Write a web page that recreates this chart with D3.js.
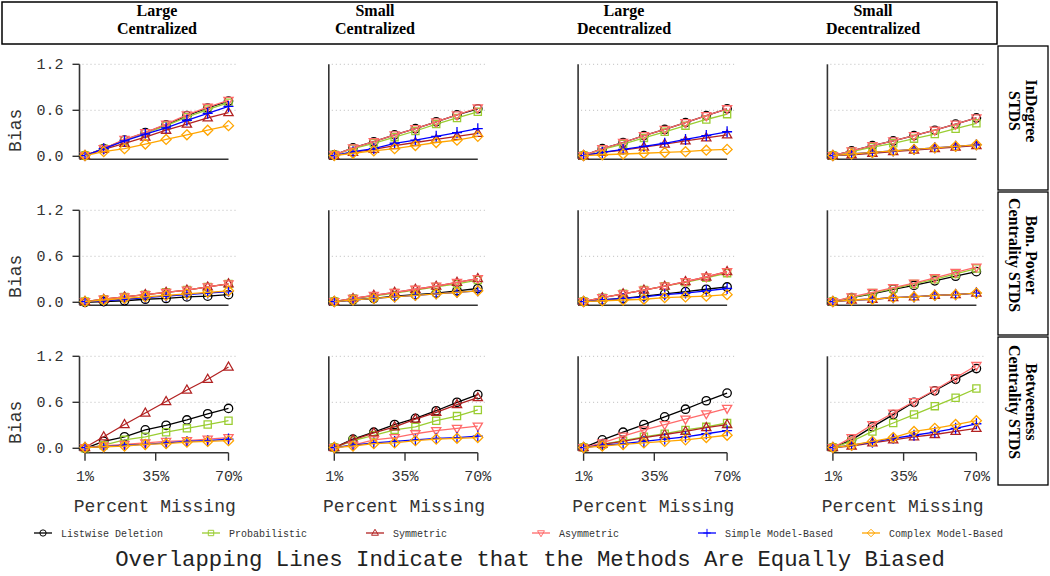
<!DOCTYPE html>
<html><head><meta charset="utf-8">
<script src="https://cdn.jsdelivr.net/npm/d3@7"></script>
<style>body{margin:0;background:#fff}svg{display:block}</style>
</head><body>
<script>
// ---------- DATA ----------
const percentMissing = [1, 10, 20, 30, 40, 50, 60, 70];
const xTickValues = [1, 35, 70];
const xTickLabels = ["1%", "35%", "70%"];
const yTickValues = [0, 0.6, 1.2];
const yTickLabels = ["0.0", "0.6", "1.2"];
const columnLabels = [["Large", "Centralized"], ["Small", "Centralized"], ["Large", "Decentralized"], ["Small", "Decentralized"]];
const rowLabels = [["InDegree", "STDS"], ["Bon. Power", "Centrality STDS"], ["Betweeness", "Centrality STDS"]];
const methods = ["Listwise Deletion", "Probabilistic", "Symmetric", "Asymmetric", "Simple Model-Based", "Complex Model-Based"];

// one array per method, same order as `methods`
const inDegreeLargeCentral = [
  [0.01,0.10,0.21,0.31,0.41,0.53,0.63,0.72],
  [0.01,0.10,0.21,0.30,0.40,0.51,0.61,0.70],
  [0.01,0.09,0.17,0.25,0.34,0.42,0.50,0.57],
  [0.01,0.10,0.22,0.31,0.42,0.54,0.64,0.73],
  [0.01,0.10,0.20,0.29,0.37,0.47,0.56,0.65],
  [0.01,0.06,0.10,0.16,0.22,0.28,0.34,0.40]];
const inDegreeSmallCentral = [
  [0.02,0.11,0.19,0.28,0.36,0.45,0.54,0.62],
  [0.02,0.10,0.17,0.25,0.33,0.42,0.50,0.58],
  [0.01,0.05,0.09,0.14,0.18,0.22,0.26,0.30],
  [0.02,0.11,0.19,0.28,0.36,0.45,0.54,0.63],
  [0.01,0.06,0.10,0.17,0.21,0.26,0.31,0.36],
  [0.01,0.04,0.07,0.10,0.14,0.18,0.21,0.26]];
const inDegreeLargeDecentral = [
  [0.01,0.10,0.18,0.27,0.35,0.44,0.53,0.62],
  [0.01,0.09,0.16,0.24,0.32,0.40,0.48,0.55],
  [0.01,0.05,0.08,0.12,0.16,0.20,0.24,0.28],
  [0.01,0.10,0.18,0.27,0.35,0.44,0.53,0.62],
  [0.01,0.05,0.09,0.13,0.17,0.22,0.27,0.32],
  [0.01,0.02,0.03,0.04,0.05,0.06,0.08,0.09]];
const inDegreeSmallDecentral = [
  [0.01,0.07,0.14,0.20,0.27,0.34,0.42,0.50],
  [0.01,0.06,0.12,0.17,0.23,0.29,0.36,0.43],
  [0.01,0.02,0.04,0.06,0.08,0.10,0.12,0.14],
  [0.01,0.07,0.14,0.20,0.27,0.34,0.42,0.50],
  [0.01,0.03,0.05,0.07,0.09,0.11,0.13,0.15],
  [0.01,0.03,0.05,0.07,0.09,0.11,0.13,0.15]];
const bonPowerLargeCentral = [
  [0.00,0.01,0.02,0.04,0.05,0.07,0.08,0.10],
  [0.01,0.04,0.07,0.10,0.13,0.16,0.20,0.24],
  [0.01,0.04,0.07,0.10,0.13,0.16,0.20,0.24],
  [0.01,0.04,0.07,0.10,0.13,0.16,0.20,0.24],
  [0.01,0.02,0.04,0.06,0.08,0.10,0.12,0.14],
  [0.01,0.03,0.05,0.07,0.09,0.11,0.13,0.15]];
const bonPowerSmallCentral = [
  [0.01,0.03,0.05,0.08,0.10,0.12,0.15,0.18],
  [0.01,0.05,0.08,0.12,0.16,0.20,0.24,0.29],
  [0.01,0.05,0.09,0.13,0.17,0.21,0.26,0.31],
  [0.01,0.05,0.09,0.13,0.17,0.21,0.26,0.31],
  [0.01,0.03,0.05,0.07,0.09,0.11,0.13,0.15],
  [0.01,0.03,0.05,0.07,0.09,0.11,0.13,0.15]];
const bonPowerLargeDecentral = [
  [0.01,0.03,0.05,0.08,0.11,0.14,0.17,0.20],
  [0.01,0.06,0.11,0.16,0.21,0.26,0.32,0.38],
  [0.01,0.06,0.11,0.16,0.21,0.27,0.33,0.40],
  [0.01,0.06,0.11,0.16,0.21,0.27,0.33,0.40],
  [0.01,0.03,0.05,0.07,0.10,0.12,0.15,0.18],
  [0.01,0.02,0.03,0.04,0.06,0.07,0.08,0.10]];
const bonPowerSmallDecentral = [
  [0.01,0.06,0.11,0.17,0.22,0.28,0.34,0.40],
  [0.01,0.06,0.12,0.18,0.24,0.30,0.37,0.44],
  [0.01,0.03,0.04,0.06,0.07,0.09,0.10,0.12],
  [0.01,0.07,0.13,0.19,0.25,0.32,0.39,0.46],
  [0.01,0.03,0.04,0.06,0.07,0.09,0.10,0.12],
  [0.01,0.03,0.04,0.06,0.07,0.09,0.10,0.12]];
const betweenLargeCentral = [
  [0.00,0.09,0.15,0.24,0.30,0.37,0.45,0.52],
  [0.00,0.04,0.11,0.15,0.21,0.26,0.31,0.36],
  [0.01,0.15,0.31,0.46,0.61,0.76,0.90,1.06],
  [0.01,0.03,0.05,0.07,0.09,0.10,0.12,0.14],
  [0.01,0.02,0.04,0.05,0.07,0.09,0.10,0.12],
  [0.01,0.02,0.03,0.05,0.06,0.08,0.09,0.10]];
const betweenSmallCentral = [
  [0.01,0.12,0.21,0.31,0.39,0.49,0.60,0.70],
  [0.01,0.10,0.17,0.24,0.28,0.36,0.42,0.50],
  [0.01,0.11,0.20,0.28,0.38,0.47,0.57,0.66],
  [0.01,0.04,0.11,0.14,0.19,0.23,0.26,0.29],
  [0.01,0.04,0.07,0.09,0.11,0.13,0.14,0.16],
  [0.01,0.03,0.06,0.07,0.10,0.12,0.13,0.14]];
const betweenLargeDecentral = [
  [0.01,0.11,0.21,0.31,0.41,0.51,0.62,0.72],
  [0.01,0.05,0.10,0.15,0.19,0.24,0.28,0.33],
  [0.01,0.05,0.09,0.14,0.18,0.22,0.27,0.31],
  [0.01,0.07,0.16,0.24,0.31,0.38,0.45,0.52],
  [0.01,0.04,0.06,0.09,0.12,0.15,0.19,0.23],
  [0.01,0.03,0.05,0.07,0.09,0.11,0.14,0.17]];
const betweenSmallDecentral = [
  [0.01,0.11,0.28,0.44,0.60,0.75,0.90,1.04],
  [0.01,0.09,0.22,0.33,0.44,0.55,0.66,0.78],
  [0.01,0.03,0.07,0.11,0.15,0.18,0.22,0.26],
  [0.01,0.14,0.31,0.46,0.61,0.76,0.92,1.08],
  [0.01,0.04,0.08,0.13,0.17,0.21,0.26,0.32],
  [0.01,0.04,0.09,0.14,0.22,0.26,0.31,0.36]];
const bias = [
  [inDegreeLargeCentral, inDegreeSmallCentral, inDegreeLargeDecentral, inDegreeSmallDecentral],
  [bonPowerLargeCentral, bonPowerSmallCentral, bonPowerLargeDecentral, bonPowerSmallDecentral],
  [betweenLargeCentral, betweenSmallCentral, betweenLargeDecentral, betweenSmallDecentral]];

// ---------- STYLE ----------
const colors = ["#000000", "#9ACD32", "#B22222", "#FF6A6A", "#0000FF", "#FFA500"];
const shapes = ["circle", "square", "triUp", "triDown", "plus", "diamond"];
const mono = "'Liberation Mono', 'Courier New', monospace";
const serif = "'Liberation Serif', 'Times New Roman', serif";

const W = 1050, H = 576;
const svg = d3.select("body").append("svg").attr("width", W).attr("height", H);

function markerPath(shape) {
  switch (shape) {
    case "circle": return "M4.2,0A4.2,4.2 0 1,1 -4.2,0A4.2,4.2 0 1,1 4.2,0Z";
    case "square": return "M-3.6,-3.6H3.6V3.6H-3.6Z";
    case "triUp": return "M0,-5L4.6,3H-4.6Z";
    case "triDown": return "M0,5L4.6,-3H-4.6Z";
    case "plus": return "M-5,0H5M0,-5.5V5.5";
    case "diamond": return "M0,-5L5,0L0,5L-5,0Z";
  }
}

const colX0 = [85, 334.3, 583.6, 832.9];
const plotW = 143.5;
const rowY0 = [156.3, 302.3, 448.3];
const plotH = 92;

for (let r = 0; r < 3; r++) {
  for (let c = 0; c < 4; c++) {
    const x = d3.scaleLinear().domain([1, 70]).range([colX0[c], colX0[c] + plotW]);
    const y = d3.scaleLinear().domain([0, 1.2]).range([rowY0[r], rowY0[r] - plotH]);
    const g = svg.append("g");
    const axX = colX0[c] - 5.5;
    g.selectAll("line.grid").data([0.6, 1.2]).join("line")
      .attr("x1", axX + 3).attr("x2", x(70) + 7)
      .attr("y1", d => y(d)).attr("y2", d => y(d))
      .attr("stroke", "#bbb").attr("stroke-width", 1).attr("stroke-dasharray", "1,3");
    g.append("line").attr("x1", axX).attr("x2", axX).attr("y1", y(1.2)).attr("y2", y(0) + 2.5)
      .attr("stroke", "#333").attr("stroke-width", 1.6);
    if (c === 0) {
      g.selectAll("line.yt").data(yTickValues).join("line")
        .attr("x1", axX - 7).attr("x2", axX).attr("y1", d => y(d)).attr("y2", d => y(d))
        .attr("stroke", "#333").attr("stroke-width", 1.4);
      g.selectAll("text.yl").data(yTickValues).join("text")
        .attr("x", axX - 16).attr("y", d => y(d) + 5)
        .attr("text-anchor", "end").attr("font-family", mono).attr("font-size", 15)
        .attr("fill", "#333").text((d, i) => yTickLabels[i]);
      g.append("text")
        .attr("transform", `translate(21,${y(0) - 26}) rotate(-90)`)
        .attr("text-anchor", "middle").attr("font-family", mono).attr("font-size", 18)
        .attr("fill", "#333").text("Bias");
    }
    if (r < 2) {
      g.append("line").attr("x1", axX).attr("x2", x(70)).attr("y1", y(0) + 3).attr("y2", y(0) + 3)
        .attr("stroke", "#333").attr("stroke-width", 1.6);
    } else {
      const ay = y(0) + 4.5;
      g.append("line").attr("x1", x(1)).attr("x2", x(70)).attr("y1", ay).attr("y2", ay)
        .attr("stroke", "#333").attr("stroke-width", 1.6);
      g.selectAll("line.xt").data(xTickValues).join("line")
        .attr("x1", d => x(d)).attr("x2", d => x(d)).attr("y1", ay).attr("y2", ay + 8)
        .attr("stroke", "#333").attr("stroke-width", 1.4);
      g.selectAll("text.xl").data(xTickValues).join("text")
        .attr("x", d => x(d)).attr("y", ay + 28)
        .attr("text-anchor", "middle").attr("font-family", mono).attr("font-size", 15)
        .attr("fill", "#333").text((d, i) => xTickLabels[i]);
      g.append("text").attr("x", (x(1) + x(70)) / 2 - 2).attr("y", 512)
        .attr("text-anchor", "middle").attr("font-family", mono).attr("font-size", 18)
        .attr("fill", "#333").text("Percent Missing");
    }
    const line = d3.line().x((d, i) => x(percentMissing[i])).y(d => y(d));
    bias[r][c].forEach((vals, m) => {
      g.append("path").attr("d", line(vals)).attr("fill", "none")
        .attr("stroke", colors[m]).attr("stroke-width", 1.3);
      g.selectAll(null).data(vals).join("path")
        .attr("transform", (d, i) => `translate(${x(percentMissing[i])},${y(d)})`)
        .attr("d", markerPath(shapes[m]))
        .attr("fill", "none").attr("stroke", colors[m]).attr("stroke-width", 1.3);
    });
  }
}

// header strip
svg.append("rect").attr("x", 2).attr("y", 2).attr("width", 995).attr("height", 42)
  .attr("fill", "#fff").attr("stroke", "#000").attr("stroke-width", 1.5);
const headerX = [157, 375, 624, 873];
columnLabels.forEach((lab, i) => {
  lab.forEach((t, k) => {
    svg.append("text").attr("x", headerX[i]).attr("y", 16 + k * 18)
      .attr("text-anchor", "middle").attr("font-family", serif).attr("font-weight", "bold")
      .attr("font-size", 16).text(t);
  });
});

// right strip
const stripBoxes = [[46, 190], [192, 335], [337, 485]];
const stripTextY = [111, 255, 402];
stripBoxes.forEach((b, i) => {
  svg.append("rect").attr("x", 998).attr("y", b[0]).attr("width", 50).attr("height", b[1] - b[0])
    .attr("fill", "#fff").attr("stroke", "#000").attr("stroke-width", 1.3);
  rowLabels[i].forEach((t, k) => {
    svg.append("text").attr("transform", `translate(${1026 - k * 17},${stripTextY[i]}) rotate(90)`)
      .attr("text-anchor", "middle").attr("font-family", serif).attr("font-weight", "bold")
      .attr("font-size", 16).text(t);
  });
});

// legend
const legendX = [43, 211, 375, 541, 707, 871];
const legY = 533;
methods.forEach((m, i) => {
  const g = svg.append("g").attr("transform", `translate(${legendX[i]},${legY})`);
  g.append("line").attr("x1", -9).attr("x2", 9).attr("stroke", colors[i]).attr("stroke-width", 1.3);
  g.append("path").attr("d", markerPath(shapes[i])).attr("transform", "scale(0.75)")
    .attr("fill", "none").attr("stroke", colors[i]).attr("stroke-width", 1.3);
  g.append("text").attr("x", 18).attr("y", 4).attr("font-family", mono).attr("font-size", 10)
    .attr("fill", "#333").text(m);
});

// title
svg.append("text").attr("x", 530).attr("y", 566).attr("text-anchor", "middle")
  .attr("font-family", mono).attr("font-size", 22.3).attr("fill", "#222")
  .text("Overlapping Lines Indicate that the Methods Are Equally Biased");
</script>
</body></html>
